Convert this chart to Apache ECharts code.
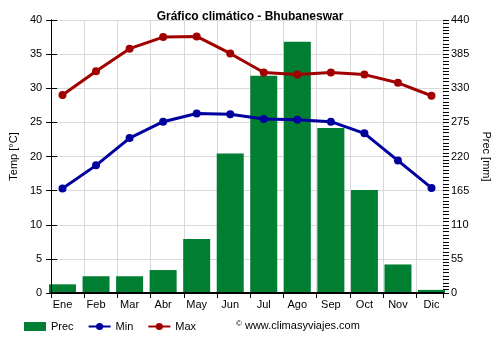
<!DOCTYPE html>
<html>
<head>
<meta charset="utf-8">
<script src="https://cdn.jsdelivr.net/npm/echarts@6/dist/echarts.min.js"></script>
<style>
  html, body { margin: 0; padding: 0; background: #fff; }
  #chart { width: 500px; height: 350px; }
</style>
</head>
<body>
<div id="chart"></div>
<script>
// Monthly climate data for Bhubaneswar
const months = ['Ene', 'Feb', 'Mar', 'Abr', 'May', 'Jun', 'Jul', 'Ago', 'Sep', 'Oct', 'Nov', 'Dic'];
const precMm = [14, 27, 27, 37, 87, 225, 350, 405, 266, 166, 46, 5];
const tempMin = [15.3, 18.7, 22.7, 25.1, 26.3, 26.2, 25.5, 25.4, 25.1, 23.4, 19.4, 15.4];
const tempMax = [29.0, 32.5, 35.8, 37.5, 37.6, 35.1, 32.3, 32.0, 32.3, 32.0, 30.8, 28.9];

const font = 'Liberation Sans, Arial, sans-serif';

// Layout: the frame (axes, grid lines) spans 396px; each month slot is a bit wider,
// with the bar sitting flush against the left edge of its slot.
const plotLeft = 49, plotWidth = 396, plotTop = 20, plotBottom = 57;
const barW = 27;
const slot = (plotWidth - barW) / 11;                // distance between month centres
const slotCount = plotWidth / slot;                  // frame width measured in slots
const dataLeft = plotLeft + barW / 2 - slot / 2;     // grid whose category centres hit bar centres

const chart = echarts.init(document.getElementById('chart'), null, { renderer: 'canvas' });

const hiddenAxisBits = {
  axisLine: { show: false }, axisTick: { show: false }, minorTick: { show: false },
  axisLabel: { show: false }, splitLine: { show: false }, minorSplitLine: { show: false }
};

chart.setOption({
  animation: false,
  textStyle: { fontFamily: font },
  title: {
    text: 'Gráfico climático - Bhubaneswar',
    left: 'center',
    top: 11,
    padding: 0,
    textStyle: { fontSize: 12, fontWeight: 'bold', color: '#000', fontFamily: font }
  },
  grid: [
    // frame grid: axes, ticks and grid lines
    { left: plotLeft, width: plotWidth, top: plotTop, bottom: plotBottom },
    // data grid: bars, lines and month labels
    { left: dataLeft, width: slot * 12, top: plotTop, bottom: plotBottom }
  ],
  legend: {
    bottom: 18,
    left: 24,
    padding: 0,
    itemGap: 14,
    itemWidth: 22,
    itemHeight: 9,
    textStyle: { fontSize: 11, color: '#000', fontFamily: font },
    data: [
      { name: 'Prec', icon: 'rect' },
      { name: 'Min' },
      { name: 'Max' }
    ]
  },
  graphic: [{
    type: 'text',
    left: 236,
    top: 320,
    style: {
      text: '{c|©} www.climasyviajes.com',
      font: '11px ' + font,
      fill: '#000',
      rich: { c: { fontSize: 8, verticalAlign: 'top', fontFamily: font } }
    }
  }],
  xAxis: [
    // vertical grid lines at slot boundaries
    {
      gridIndex: 0, type: 'value', position: 'top',
      min: 0, max: slotCount, interval: 1,
      axisLine: { show: false }, axisTick: { show: false }, axisLabel: { show: false },
      splitLine: { show: true, lineStyle: { color: '#d9d9d9' } },
      z: 0
    },
    // bottom axis line with ticks
    {
      gridIndex: 0, type: 'value', position: 'bottom',
      min: 0, max: slotCount, interval: 1,
      axisLine: { show: true, lineStyle: { color: '#000', width: 2 } },
      axisTick: { show: true, length: 5, lineStyle: { color: '#000' } },
      axisLabel: { show: false },
      splitLine: { show: false },
      z: 5
    },
    // month categories
    {
      gridIndex: 1, type: 'category', data: months, boundaryGap: true,
      axisLine: { show: false }, axisTick: { show: false },
      axisLabel: { fontSize: 11, color: '#000', margin: 6 },
      splitLine: { show: false }
    }
  ],
  yAxis: [
    {
      gridIndex: 0, type: 'value', position: 'left',
      min: 0, max: 40, interval: 5,
      name: 'Temp [°C]',
      nameLocation: 'middle',
      nameGap: 32,
      nameTextStyle: { fontSize: 11, color: '#000' },
      axisLine: { show: true, lineStyle: { color: '#000' } },
      axisTick: { show: true, length: 5, lineStyle: { color: '#000' } },
      axisLabel: { fontSize: 11, color: '#000', margin: 9 },
      splitLine: { show: true, lineStyle: { color: '#d9d9d9' } },
      z: 0
    },
    {
      gridIndex: 0, type: 'value', position: 'right',
      min: 0, max: 440, interval: 55,
      name: 'Prec [mm]',
      nameLocation: 'middle',
      nameGap: 38,
      nameRotate: -90,
      nameTextStyle: { fontSize: 11, color: '#000' },
      axisLine: { show: true, lineStyle: { color: '#000' } },
      axisTick: { show: true, length: 6, lineStyle: { color: '#000' } },
      axisLabel: { fontSize: 11, color: '#000', margin: 8 },
      splitLine: { show: false },
      z: 5
    },
    // fine ticks on the precipitation side, every 5.5 mm
    {
      gridIndex: 0, type: 'value', position: 'right',
      min: 0, max: 440, interval: 5.5,
      axisLine: { show: false },
      axisTick: { show: true, length: 6, lineStyle: { color: '#000' } },
      axisLabel: { show: false },
      splitLine: { show: false },
      z: 5
    },
    Object.assign({ gridIndex: 1, type: 'value', min: 0, max: 40, position: 'left' }, hiddenAxisBits),
    Object.assign({ gridIndex: 1, type: 'value', min: 0, max: 440, position: 'right' }, hiddenAxisBits)
  ],
  series: [
    {
      name: 'Prec',
      type: 'bar',
      xAxisIndex: 2,
      yAxisIndex: 4,
      data: precMm,
      barWidth: barW,
      itemStyle: { color: '#007f32' },
      z: 2
    },
    {
      name: 'Min',
      type: 'line',
      xAxisIndex: 2,
      yAxisIndex: 3,
      data: tempMin,
      symbol: 'circle',
      symbolSize: 8,
      lineStyle: { color: '#00009f', width: 3 },
      itemStyle: { color: '#00009f' },
      z: 6
    },
    {
      name: 'Max',
      type: 'line',
      xAxisIndex: 2,
      yAxisIndex: 3,
      data: tempMax,
      symbol: 'circle',
      symbolSize: 8,
      lineStyle: { color: '#a00000', width: 3 },
      itemStyle: { color: '#a00000' },
      z: 6
    }
  ]
});
</script>
</body>
</html>
